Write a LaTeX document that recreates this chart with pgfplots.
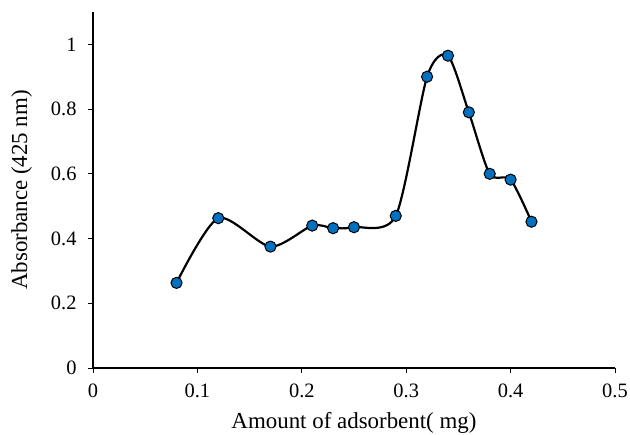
\documentclass[border=0pt]{standalone}
\usepackage{pgfplots}
\pgfplotsset{compat=1.18}
\usepackage{fontspec}
\setmainfont{Liberation Serif}
\definecolor{mk}{HTML}{0070C0}
\begin{document}
\begin{tikzpicture}[x=1bp,y=1bp]
\path[use as bounding box] (-93,-67) rectangle (537,368);
\begin{axis}[
  at={(0,0)}, anchor=origin,
  scale only axis,
  width=522bp, height=356bp,
  xmin=0, xmax=0.5, ymin=0, ymax=1.1,
  axis lines=left,
  axis line style={-, line width=1.2pt},
  xtick={0,0.1,0.2,0.3,0.4,0.5},
  ytick={0,0.2,0.4,0.6,0.8,1},
  yticklabels={0,0.2,0.4,0.6,0.8,1},
  xticklabels={0,0.1,0.2,0.3,0.4,0.5},
  /pgf/number format/assume math mode=true,
  tick align=outside,
  major tick length=5bp,
  tick style={line width=0.9pt, black},
  ticklabel style={font=\fontsize{20.5}{23}\selectfont},
  xticklabel style={yshift=-7bp},
  yticklabel style={xshift=-8bp},
  xlabel={Amount of adsorbent( mg)},
  ylabel={Absorbance (425 nm)},
  label style={font=\fontsize{23}{26}\selectfont},
  xlabel style={yshift=-8bp},
  ylabel style={yshift=12bp},
  clip=false,
]
\addplot[black, line width=2.2pt, smooth, tension=0.45,
  mark=*, mark size=5.6pt, mark options={fill=mk, draw=black, line width=1pt}]
coordinates {
(0.08,0.263) (0.12,0.463) (0.17,0.375) (0.21,0.44) (0.23,0.432) (0.25,0.435)
(0.29,0.47) (0.32,0.90) (0.34,0.965) (0.36,0.79) (0.38,0.60) (0.40,0.582) (0.42,0.452)
};
\end{axis}
\end{tikzpicture}
\end{document}
